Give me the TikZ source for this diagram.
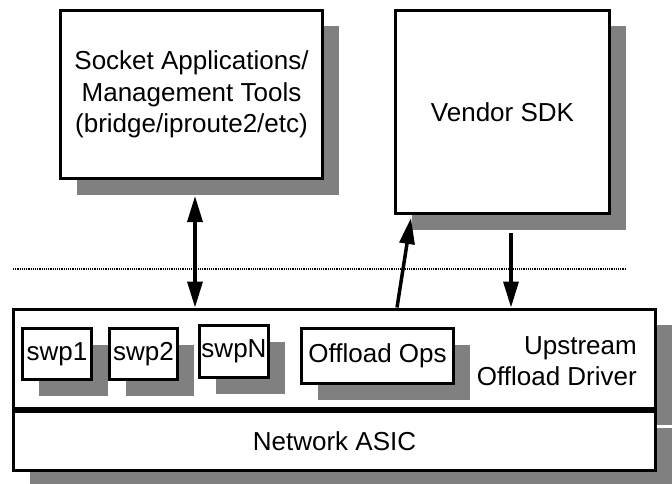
\documentclass[tikz,border=0pt]{standalone}
\usepackage{fontspec}
\setmainfont{Liberation Sans}
\usetikzlibrary{shadows,arrows.meta}

\begin{document}
\begin{tikzpicture}[x=1pt, y=1pt,
    box/.style={draw, line width=3pt, fill=white, inner sep=0pt, align=center,
        font=\fontsize{26}{31.5}\selectfont,
        drop shadow={shadow xshift=16pt, shadow yshift=-16pt, fill=black!50, opacity=1}},
    link/.style={line width=3.5pt, -{Triangle[length=26pt,width=15pt]}}]

    \useasboundingbox (0,0) rectangle (672,483);

    % user space
    \node[box, minimum width=262pt, minimum height=168pt] (apps) at (191.5,388.5)
        {Socket Applications/\\Management Tools\\(bridge/iproute2/etc)};
    \node[box, minimum width=214pt, minimum height=203pt] (sdk) at (502.5,371) {Vendor SDK};

    % kernel / hardware
    \node[box, minimum width=642pt, minimum height=99.5pt] (driver) at (334.5,124.25) {};
    \node[box, minimum width=642pt, minimum height=58.5pt] (asic) at (334.5,42.25) {Network ASIC};

    \node[box, minimum width=69pt, minimum height=51pt] (swp1) at (57,129) {swp1};
    \node[box, minimum width=68pt, minimum height=51pt] (swp2) at (143.5,129) {swp2};
    \node[box, minimum width=69pt, minimum height=52pt] (swpN) at (234,131.5) {swpN};
    \node[box, minimum width=152pt, minimum height=55pt] (ops) at (377.5,127) {Offload Ops};
    \node[anchor=east, align=right, inner sep=0pt, font=\fontsize{26}{31.5}\selectfont]
        (drvlabel) at (637,122) {Upstream\\Offload Driver};

    % user/kernel boundary
    \coordinate (sepL) at (13,214);
    \coordinate (sepR) at (626,214);
    \draw[line width=2.5pt, dash pattern=on 1.2pt off 1pt] (sepL) -- (sepR);

    \coordinate (appsfoot) at ([shift={(3.5pt,-16pt)}]apps.south);
    \coordinate (sdktip) at ([shift={(17pt,-3pt)}]sdk.south west);
    \coordinate (sdkfoot) at ([shift={(8.5pt,-18pt)}]sdk.south);
    \coordinate (opsout) at (397,0);

    \draw[link, {Triangle[length=26pt,width=15pt]}-{Triangle[length=26pt,width=15pt]}]
        (appsfoot) -- (appsfoot |- driver.north);
    \draw[link] (opsout |- driver.north) -- (sdktip);
    \draw[link] (sdkfoot) -- (sdkfoot |- driver.north);

\end{tikzpicture}
\end{document}
